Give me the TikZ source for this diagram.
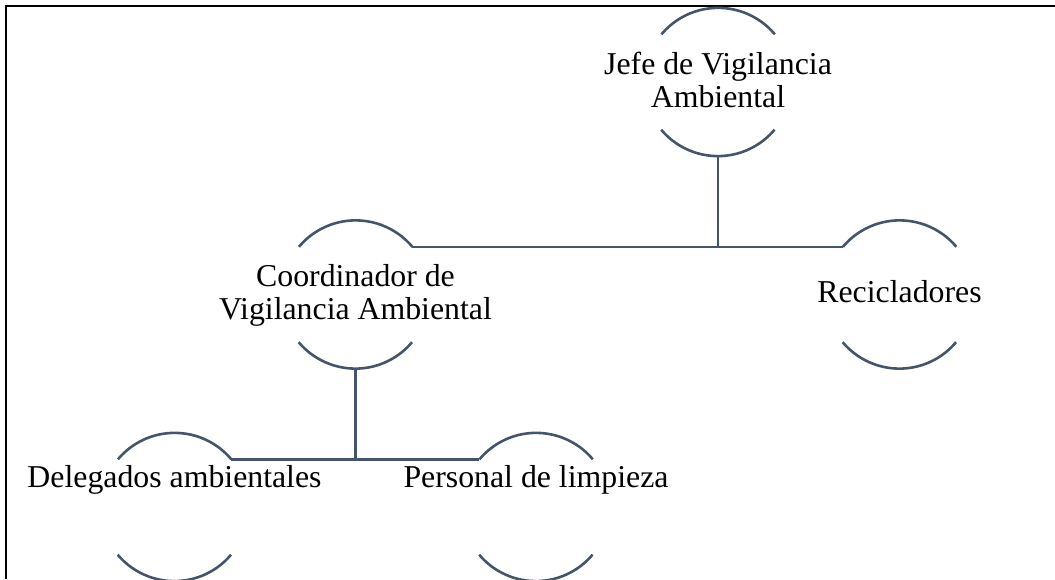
\documentclass[tikz,border=0pt]{standalone}
\usepackage{fontspec}
\setmainfont{Liberation Serif}
\definecolor{linec}{HTML}{44546A}
\begin{document}
\begin{tikzpicture}[x=1pt,y=1pt,
  ring/.style={circle, minimum size=148pt, inner sep=0pt, draw=none},
  arcline/.style={draw=linec, line width=2.6pt},
  link/.style={draw=linec, line width=2.6pt},
  lbl/.style={inner sep=0pt, align=center, anchor=base, font=\fontsize{31.8}{33}\selectfont}]
\useasboundingbox (0,0) rectangle (1055,579);
\draw[line width=1.8pt] (6,0) -- (6,573) -- (1055,573);
% circles
\node[ring] (jefe) at (718,497) {};
\node[ring] (coord) at (355.5,284.5) {};
\node[ring] (recic) at (899.5,284.5) {};
\node[ring] (deleg) at (174.5,72) {};
\node[ring] (pers) at (536,72) {};
\foreach \n in {jefe,coord,recic,deleg,pers}{
  \draw[arcline] (\n.40) arc[start angle=40,end angle=140,radius=74pt];
  \draw[arcline] (\n.220) arc[start angle=220,end angle=320,radius=74pt];
}
% connectors
\draw[link] (jefe.south) |- (coord.40);
\draw[link] (jefe.south) |- (recic.140);
\draw[link] (coord.south) |- (deleg.40);
\draw[link] (coord.south) |- (pers.140);
% labels
\node[lbl] (jefeT) at (718,471) {Jefe de Vigilancia\\Ambiental};
\node[lbl] (coordT) at (355.5,259) {Coordinador de\\Vigilancia Ambiental};
\node[lbl] (recicT) at (899.5,276) {Recicladores};
\node[lbl] (delegT) at (174.5,92) {Delegados ambientales};
\node[lbl] (persT) at (536,92) {Personal de limpieza};
\end{tikzpicture}
\end{document}
